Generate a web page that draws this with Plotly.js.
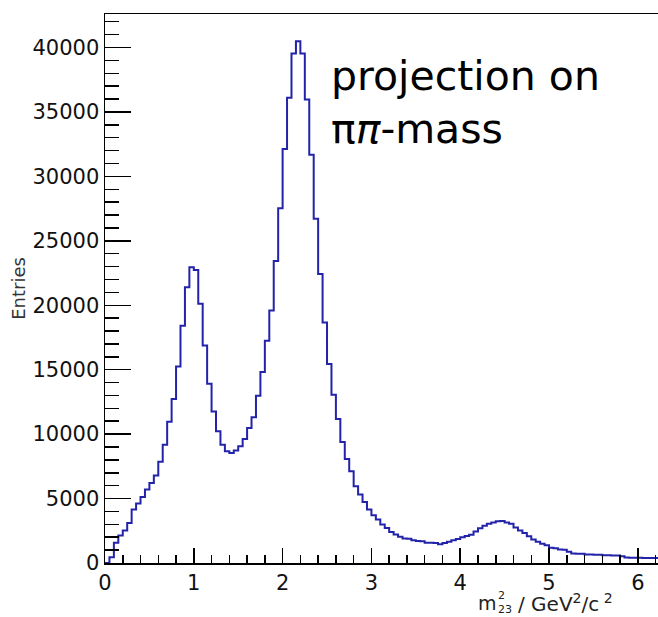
<!DOCTYPE html>
<html>
<head>
<meta charset="utf-8">
<script src="https://cdn.plot.ly/plotly-3.0.1.min.js"></script>
<style>html,body{margin:0;padding:0;background:#fff;}#chart{width:658px;height:617px;}</style>
</head>
<body>
<div id="chart"></div>
<script>
// Histogram of m23^2 (projection on pi-pi mass), bin width 0.05 GeV^2/c^2, starting at 0
const binStart = 0;
const binWidth = 0.05;
const counts = [
  0, 450, 1565, 2130, 2520, 3110, 4145, 4610, 5130, 5695,
  6210, 6780, 7865, 9180, 10965, 12720, 15250, 18400, 21400, 22950,
  22740, 20110, 16880, 13910, 11765, 10215, 9180, 8665, 8540, 8720,
  9050, 9620, 10475, 11300, 12980, 14815, 17240, 19590, 23440, 27520,
  32120, 36095, 39535, 40490, 39535, 35970, 31680, 26720, 22430, 18660,
  15435, 13060, 11170, 9390, 8075, 7115, 5950, 5310, 4740, 4145,
  3705, 3370, 2985, 2725, 2415, 2210, 2030, 1900, 1880, 1770,
  1700, 1680, 1580, 1570, 1560, 1450, 1560, 1640, 1770, 1870,
  2000, 2100, 2200, 2450, 2700, 2900, 3050, 3150, 3230, 3250,
  3150, 3050, 2750, 2520, 2330, 2070, 1820, 1640, 1500, 1370,
  1180, 1150, 1040, 1020, 880, 740, 720, 710, 660, 650,
  645, 640, 600, 595, 590, 585, 520, 420, 410, 400,
  400, 395, 390, 390, 385
];
const xTickVals = [0, 1, 2, 3, 4, 5, 6];
const yTickVals = [0, 5000, 10000, 15000, 20000, 25000, 30000, 35000, 40000];
const xTitleMain = "m";
const xTitleScripts = "2<br>23";   // stacked superscript 2 over subscript 23
const xTitleRest = "/ GeV<sup>2</sup>/c<sup> 2</sup>";
const yTitle = "Entries";
const noteText = "projection on<br>π<i>π</i>-mass";

// step outline built from bin edges
const xs = [], ys = [];
counts.forEach((c, i) => { xs.push(binStart + i * binWidth); ys.push(c); });
xs.push(binStart + counts.length * binWidth); ys.push(counts[counts.length - 1]);

const L = 105, R = 0, T = 14, B = 54, W = 658, H = 617;
const pw = W - L - R, ph = H - T - B;
const px = v => (v - L) / pw;
const py = v => (H - B - v) / ph;

const tickFont = {family: "DejaVu Sans", size: 21, color: "#111"};

const trace = {
  type: "scatter", mode: "lines", x: xs, y: ys,
  line: {shape: "hv", color: "#2323aa", width: 2},
  hoverinfo: "skip", showlegend: false
};

const layout = {
  width: W, height: H,
  margin: {l: L, r: R, t: T, b: B, pad: 0},
  paper_bgcolor: "#fff", plot_bgcolor: "#fff",
  showlegend: false,
  xaxis: {
    range: [0, 6.227], tickvals: xTickVals, ticktext: xTickVals.map(String),
    showgrid: false, zeroline: false,
    showline: true, linecolor: "#000", linewidth: 1.5, mirror: true,
    ticks: "inside", ticklen: 15, tickwidth: 1.5, tickcolor: "#000",
    minor: {dtick: 0.2, ticks: "inside", ticklen: 8, tickwidth: 1.5, tickcolor: "#000", showgrid: false},
    tickfont: tickFont
  },
  yaxis: {
    range: [0, 42600], tickvals: yTickVals, ticktext: yTickVals.map(String),
    showgrid: false, zeroline: false,
    showline: true, linecolor: "#000", linewidth: 1.5, mirror: false,
    ticks: "inside", ticklen: 26, tickwidth: 1.5, tickcolor: "#000",
    minor: {dtick: 1000, ticks: "inside", ticklen: 14, tickwidth: 1.5, tickcolor: "#000", showgrid: false},
    tickfont: tickFont,
    title: {text: yTitle, font: {family: "DejaVu Sans", size: 18, color: "#333"}, standoff: 2}
  },
  annotations: [
    {xref: "paper", yref: "paper", x: px(329), y: py(50), xanchor: "left", yanchor: "top",
     text: noteText, align: "left", showarrow: false,
     font: {family: "DejaVu Sans", size: 41, color: "#000"}},
    {xref: "paper", yref: "paper", x: px(477), y: py(603), xanchor: "left", yanchor: "middle",
     text: xTitleMain, showarrow: false, borderpad: 0,
     font: {family: "DejaVu Sans", size: 19, color: "#222"}},
    {xref: "paper", yref: "paper", x: px(497), y: py(602.5), xanchor: "left", yanchor: "middle",
     text: xTitleScripts, align: "left", showarrow: false, borderpad: 0,
     font: {family: "DejaVu Sans", size: 11, color: "#222"}},
    {xref: "paper", yref: "paper", x: px(517), y: py(603), xanchor: "left", yanchor: "middle",
     text: xTitleRest, showarrow: false, borderpad: 0,
     font: {family: "DejaVu Sans", size: 20, color: "#222"}}
  ]
};

Plotly.newPlot("chart", [trace], layout, {staticPlot: true, displayModeBar: false});
</script>
</body>
</html>
